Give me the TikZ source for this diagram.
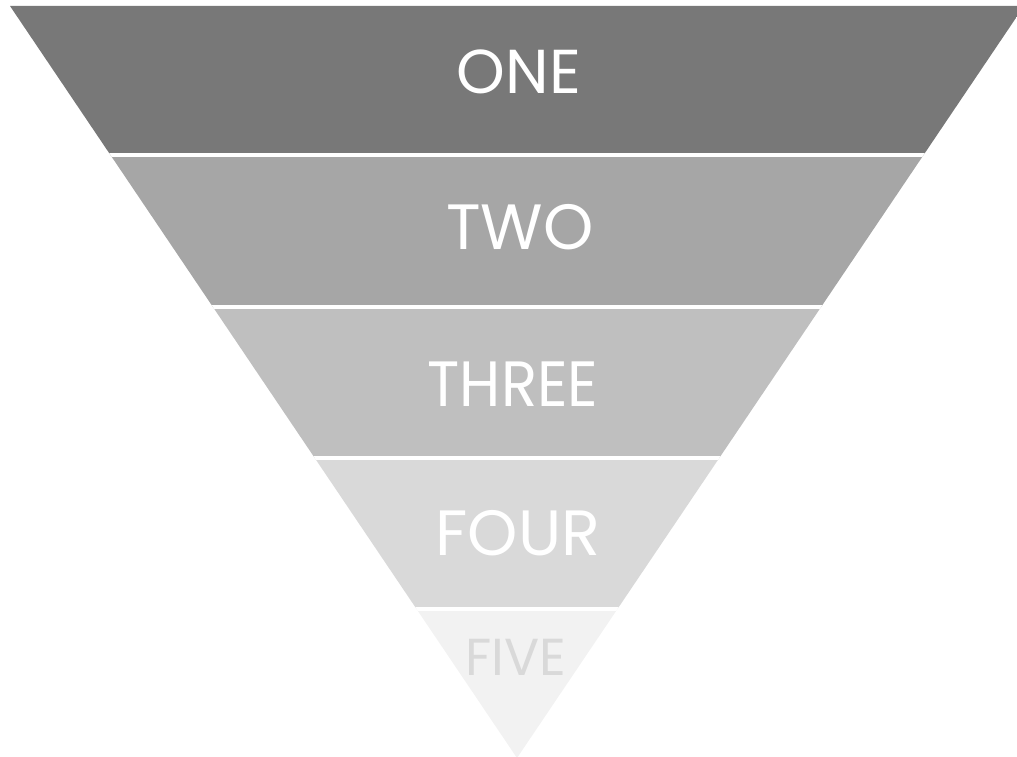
\documentclass[tikz,border=0pt]{standalone}
\usepackage{fontspec}
\setmainfont{Poppins}
\definecolor{cone}{HTML}{787878}
\definecolor{ctwo}{HTML}{A6A6A6}
\definecolor{cthree}{HTML}{BFBFBF}
\definecolor{cfour}{HTML}{D9D9D9}
\definecolor{cfive}{HTML}{F2F2F2}
\tikzset{
  lbl/.style={text=white, inner sep=0pt, font=\fontsize{64}{64}\selectfont},
  gapline/.style={white, line width=3.6pt}
}
\begin{document}
\begin{tikzpicture}[x=1pt,y=-1pt]
\useasboundingbox (0,0) rectangle (1017,757);
\coordinate (tl) at (10,6);
\coordinate (tr) at (1024,6);
\coordinate (ap) at (517,758);
\begin{scope}
\clip (tl) -- (tr) -- (ap) -- cycle;
\fill[cone] (0,0) rectangle (1030,155);
\fill[ctwo] (0,155) rectangle (1030,307);
\fill[cthree] (0,307) rectangle (1030,458);
\fill[cfour] (0,458) rectangle (1030,609);
\fill[cfive] (0,609) rectangle (1030,760);
\draw[gapline] (0,155) -- (1030,155);
\draw[gapline] (0,307) -- (1030,307);
\draw[gapline] (0,458) -- (1030,458);
\draw[gapline] (0,609) -- (1030,609);
\end{scope}
\node[lbl, font=\fontsize{62}{62}\selectfont] (one) at (519,72) {ONE};
\node[lbl] (two) at (520,227) {TWO};
\node[lbl] (three) at (513,384) {\scalebox{0.93}[1]{THREE}};
\node[lbl] (four) at (518,533) {FOUR};
\node[lbl, text=cfour, font=\fontsize{52}{52}\selectfont] (five) at (516,657) {FIVE};
\end{tikzpicture}
\end{document}
